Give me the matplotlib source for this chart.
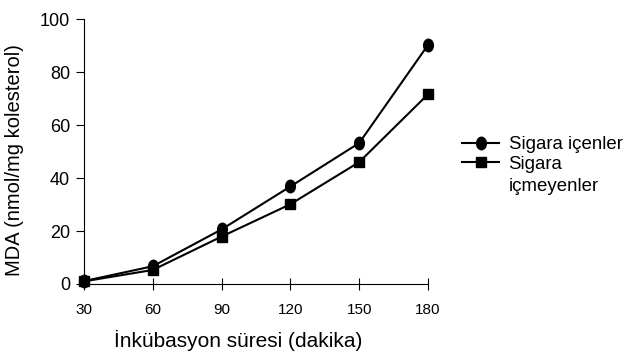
import matplotlib
matplotlib.use("Agg")
import matplotlib.pyplot as plt
from matplotlib.path import Path
from matplotlib.transforms import Affine2D

plt.rcParams['font.family'] = ['Liberation Sans', 'DejaVu Sans']

x_vals = [30, 60, 90, 120, 150, 180]
smokers = [1.1, 6.7, 20.6, 36.8, 53.2, 90.2]
nonsmokers = [1.0, 5.3, 17.9, 30.1, 46.0, 71.6]
x_ticks = [30, 60, 90, 120, 150, 180]
y_ticks = [0, 20, 40, 60, 80, 100]
series_labels = ["Sigara içenler", "Sigara\niçmeyenler"]

oval = Path.unit_circle().transformed(Affine2D().scale(0.78, 1.0))

fig = plt.figure(figsize=(6.23, 3.51), dpi=100)
ax = fig.add_axes([84/623, 1-284/351, (428-84)/623, (284-19)/351])

ax.plot(x_vals, smokers, color='black', lw=1.5, marker=oval, ms=9, clip_on=False,
        label=series_labels[0])
ax.plot(x_vals, nonsmokers, color='black', lw=1.5, marker='s', ms=7.5, clip_on=False,
        label=series_labels[1].split("\n")[0])

ax.set_xlim(30, 180)
ax.set_ylim(0, 100)
ax.set_xticks(x_ticks)
ax.set_yticks(y_ticks)
ax.spines['top'].set_visible(False)
ax.spines['right'].set_visible(False)
ax.spines['left'].set_linewidth(0.8)
ax.spines['bottom'].set_linewidth(0.8)
ax.tick_params(axis='x', direction='inout', length=8, width=0.8, labelsize=11, pad=10)
ax.tick_params(axis='y', direction='out', length=6, width=0.8, labelsize=13, pad=4)

ax.set_xlabel("İnkübasyon süresi (dakika)", fontsize=15)
ax.xaxis.set_label_coords(0.448, -0.172)
ax.set_ylabel("MDA (nmol/mg kolesterol)", fontsize=14.5)
ax.yaxis.set_label_coords(-0.175, 0.468)

leg = ax.legend(loc='upper left', bbox_to_anchor=(462/623, 1-136/351), bbox_transform=fig.transFigure,
                frameon=False, fontsize=13.4, handlelength=2.0, handletextpad=0.5, labelspacing=0.15,
                borderaxespad=0, borderpad=0)

# second line of the wrapped legend label
fig.canvas.draw()
bb = leg.get_texts()[1].get_window_extent()
fig.text(bb.x0, bb.y0 - 22, series_labels[1].split("\n")[1], fontsize=13.4,
         transform=None, ha='left', va='bottom')

fig.savefig("out.png", dpi=100)
